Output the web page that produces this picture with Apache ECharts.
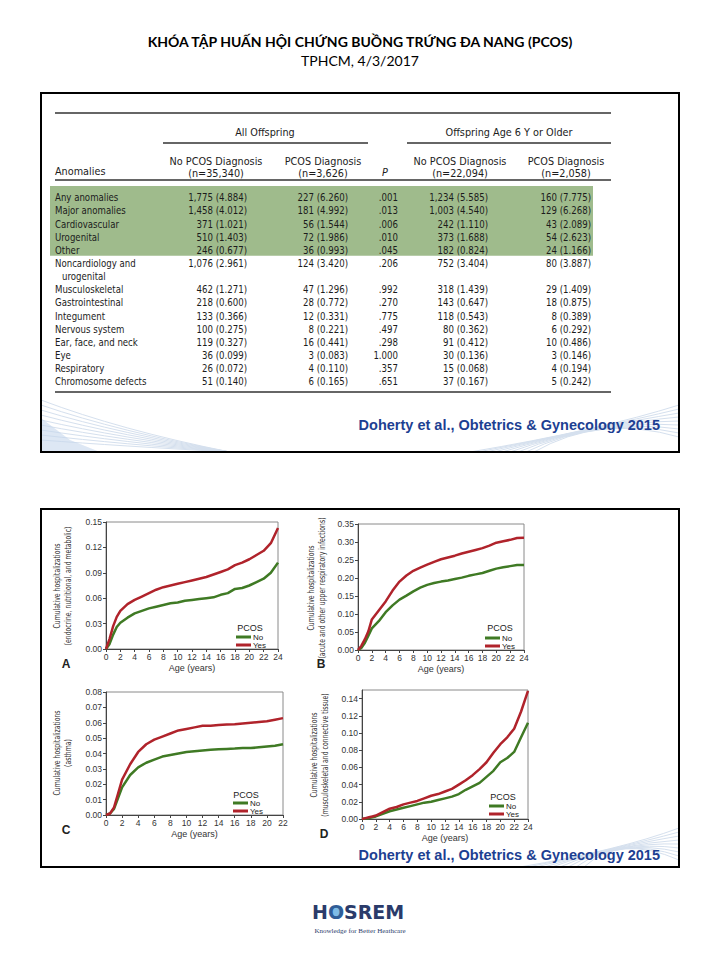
<!DOCTYPE html>
<html><head><meta charset="utf-8">
<script src="https://cdn.jsdelivr.net/npm/echarts@6/dist/echarts.min.js"></script>
<style>html,body{margin:0;padding:0;background:#fff}#c{width:720px;height:960px}</style>
</head><body><div id="c"></div>
<script>
// ---------- slide text ----------
const titleText = 'KHÓA TẬP HUẤN HỘI CHỨNG BUỒNG TRỨNG ĐA NANG (PCOS)';
const subtitleText = 'TPHCM, 4/3/2017';
const sourceText = 'Doherty et al., Obtetrics & Gynecology 2015';

// ---------- table ----------
const groupHeaders = ['All Offspring', 'Offspring Age 6 Y or Older'];
const colHeaders = [['No PCOS Diagnosis', '(n=35,340)'], ['PCOS Diagnosis', '(n=3,626)'], ['P'], ['No PCOS Diagnosis', '(n=22,094)'], ['PCOS Diagnosis', '(n=2,058)']];
const anomalies = ['Any anomalies', 'Major anomalies', 'Cardiovascular', 'Urogenital', 'Other', 'Noncardiology and\nurogenital', 'Musculoskeletal', 'Gastrointestinal', 'Integument', 'Nervous system', 'Ear, face, and neck', 'Eye', 'Respiratory', 'Chromosome defects'];
const noPcosAll = ['1,775 (4.884)', '1,458 (4.012)', '371 (1.021)', '510 (1.403)', '246 (0.677)', '1,076 (2.961)', '462 (1.271)', '218 (0.600)', '133 (0.366)', '100 (0.275)', '119 (0.327)', '36 (0.099)', '26 (0.072)', '51 (0.140)'];
const pcosAll = ['227 (6.260)', '181 (4.992)', '56 (1.544)', '72 (1.986)', '36 (0.993)', '124 (3.420)', '47 (1.296)', '28 (0.772)', '12 (0.331)', '8 (0.221)', '16 (0.441)', '3 (0.083)', '4 (0.110)', '6 (0.165)'];
const pValues = ['.001', '.013', '.006', '.010', '.045', '.206', '.992', '.270', '.775', '.497', '.298', '1.000', '.357', '.651'];
const noPcos6 = ['1,234 (5.585)', '1,003 (4.540)', '242 (1.110)', '373 (1.688)', '182 (0.824)', '752 (3.404)', '318 (1.439)', '143 (0.647)', '118 (0.543)', '80 (0.362)', '91 (0.412)', '30 (0.136)', '15 (0.068)', '37 (0.167)'];
const pcos6 = ['160 (7.775)', '129 (6.268)', '43 (2.089)', '54 (2.623)', '24 (1.166)', '80 (3.887)', '29 (1.409)', '18 (0.875)', '8 (0.389)', '6 (0.292)', '10 (0.486)', '3 (0.146)', '4 (0.194)', '5 (0.242)'];
const highlightedRows = 5;

// ---------- curves ----------
const ages24 = [0, 0.5, 1, 1.5, 2, 3, 4, 5, 6, 7, 8, 9, 10, 11, 12, 13, 14, 15, 16, 17, 18, 19, 20, 21, 22, 23, 24];
const ages22 = [0, 0.5, 1, 1.5, 2, 3, 4, 5, 6, 7, 8, 9, 10, 11, 12, 13, 14, 15, 16, 17, 18, 19, 20, 21, 22];
const endoNo  = [0, 0.006, 0.017, 0.026, 0.031, 0.037, 0.042, 0.045, 0.048, 0.050, 0.052, 0.054, 0.055, 0.057, 0.058, 0.059, 0.060, 0.061, 0.064, 0.066, 0.071, 0.072, 0.075, 0.079, 0.083, 0.090, 0.102];
const endoYes = [0, 0.012, 0.027, 0.038, 0.045, 0.053, 0.058, 0.062, 0.066, 0.070, 0.073, 0.075, 0.077, 0.079, 0.081, 0.083, 0.085, 0.088, 0.091, 0.094, 0.099, 0.102, 0.106, 0.111, 0.116, 0.125, 0.143];
const respNo  = [0, 0.006, 0.020, 0.040, 0.060, 0.080, 0.105, 0.124, 0.140, 0.151, 0.163, 0.173, 0.181, 0.186, 0.190, 0.193, 0.197, 0.201, 0.206, 0.210, 0.214, 0.220, 0.226, 0.230, 0.233, 0.236, 0.236];
const respYes = [0, 0.012, 0.030, 0.052, 0.085, 0.110, 0.135, 0.165, 0.190, 0.207, 0.220, 0.229, 0.237, 0.245, 0.252, 0.257, 0.262, 0.268, 0.273, 0.278, 0.283, 0.290, 0.298, 0.302, 0.306, 0.311, 0.312];
const asthNo  = [0, 0.001, 0.004, 0.011, 0.018, 0.026, 0.031, 0.034, 0.036, 0.038, 0.039, 0.040, 0.041, 0.0415, 0.042, 0.0425, 0.0428, 0.043, 0.0432, 0.0435, 0.0435, 0.044, 0.0445, 0.045, 0.046];
const asthYes = [0, 0.001, 0.005, 0.014, 0.023, 0.033, 0.041, 0.046, 0.049, 0.051, 0.053, 0.055, 0.056, 0.057, 0.058, 0.058, 0.0585, 0.0588, 0.059, 0.0595, 0.060, 0.0605, 0.061, 0.062, 0.063];
const muscNo  = [0, 0.0005, 0.001, 0.002, 0.003, 0.006, 0.009, 0.011, 0.013, 0.015, 0.017, 0.019, 0.020, 0.022, 0.024, 0.026, 0.029, 0.034, 0.038, 0.042, 0.049, 0.056, 0.066, 0.071, 0.078, 0.095, 0.112];
const muscYes = [0, 0.001, 0.002, 0.003, 0.004, 0.008, 0.012, 0.014, 0.017, 0.019, 0.021, 0.024, 0.027, 0.029, 0.032, 0.035, 0.040, 0.045, 0.051, 0.058, 0.066, 0.077, 0.087, 0.095, 0.105, 0.125, 0.149];
const panelLetters = ['A', 'B', 'C', 'D'];
const panelTitles = [
  ['Cumulative hospitalizations', '(endocrine, nutritional, and metabolic)'],
  ['Cumulative hospitalizations', '(acute and other upper respiratory infections)'],
  ['Cumulative hospitalizations', '(asthma)'],
  ['Cumulative hospitalizations', '(musculoskeletal and connective tissue)']
];
const yMax = [0.15, 0.35, 0.08, 0.15];
const yStep = [0.03, 0.05, 0.01, 0.02];
const xMax = [24, 24, 22, 24];
const legendNames = ['No', 'Yes'];
const legendTitle = 'PCOS';
const xAxisTitle = 'Age (years)';

// ---------- layout ----------
const GREEN = '#3f7a24', RED = '#b0232b', NAVY = '#2b3b6a', BLUE = '#1d3f92';
const TAB_FONT = "'Liberation Sans Narrow', 'DejaVu Sans Condensed', sans-serif";
const NARROW = "'DejaVu Sans Condensed', sans-serif";
const SANS = "'Liberation Sans', Arial, sans-serif";
const grids = [
  {left: 106, top: 522, width: 172, height: 127},
  {left: 358, top: 524, width: 166, height: 126},
  {left: 106, top: 692, width: 177, height: 123},
  {left: 362, top: 690, width: 166, height: 129}
];
const letterPos = [[66, 664], [321, 664], [66, 830], [324, 834]];
const titlePos = [[62, 586], [316, 588], [62, 753], [319, 755]];
const legendPos = [[236, 633], [485, 634], [233, 799], [489, 802]];
const pcosPos = [[250, 628], [500, 628], [246, 795], [503, 797]];

const els = [];
function txt(x, y, text, font, opts) {
  opts = opts || {};
  els.push({
    type: 'text', x: x, y: y, rotation: opts.rotation || 0, scaleX: opts.sx || 1, z: 10,
    style: {
      text: text, font: font, fill: opts.fill || '#222',
      align: opts.align || 'left', textAlign: opts.align || 'left',
      verticalAlign: opts.va || 'middle', textVerticalAlign: opts.va || 'middle',
      lineHeight: opts.lineHeight
    }
  });
}
function hline(x1, x2, y, w) {
  els.push({type: 'line', z: 5, shape: {x1: x1, y1: y, x2: x2, y2: y}, style: {stroke: '#333', lineWidth: w || 1.3}});
}
function deco(pts) {
  els.push({type: 'bezierCurve', z: 0, shape: {x1: pts[0], y1: pts[1], cpx1: pts[2], cpy1: pts[3], x2: pts[4], y2: pts[5]}, style: {stroke: '#d5e0ee', lineWidth: 1, fill: 'none'}});
}
// faint background swooshes
for (let k = 0; k < 9; k++) {
  deco([41, 400 + k * 5, 120, 430 + k * 2, 230, 452]);
  deco([470 + k * 8, 452, 600, 430 - k * 2, 679, 405 + k * 4]);
  deco([520 + k * 8, 867, 620, 850 - k * 2, 679, 828 + k * 4]);
}
els.push({type: 'polygon', z: 0, shape: {points: [[41, 452], [41, 418], [70, 440], [100, 452]]}, style: {fill: '#c6d7ec', opacity: 0.6}});
// frames
els.push({type: 'rect', z: 1, shape: {x: 41, y: 93, width: 638, height: 359}, style: {fill: 'none', stroke: '#000', lineWidth: 2}});
els.push({type: 'rect', z: 1, shape: {x: 41, y: 509, width: 638, height: 358}, style: {fill: 'none', stroke: '#000', lineWidth: 2}});
// titles
txt(360, 41, titleText, "bold 14px Lato, 'Open Sans', sans-serif", {align: 'center', fill: '#000'});
txt(360, 60, subtitleText, "14px Lato, 'Open Sans', sans-serif", {align: 'center', fill: '#000'});

// table
const rowH = 13.15, rowTop = 197;
const TSX = 0.87, HSX = 0.98;
els.push({type: 'rect', z: 2, shape: {x: 50, y: 186, width: 543, height: rowH * highlightedRows + 4}, style: {fill: '#9fbb8c'}});
hline(55, 611, 113, 1.4);
hline(163, 368, 143, 1.4);
hline(407, 611, 143, 1.4);
hline(55, 611, 180, 1.4);
const f11 = '11px ' + TAB_FONT;
const tcol = '#1c1c1c';
txt(265, 132, groupHeaders[0], f11, {align: 'center', sx: HSX, fill: tcol});
txt(509, 132, groupHeaders[1], f11, {align: 'center', sx: HSX, fill: tcol});
txt(55, 171, 'Anomalies', f11, {sx: HSX, fill: tcol});
const headCenters = [216, 323, 385, 460, 566];
colHeaders.forEach(function (h, i) {
  if (h.length === 1) { txt(headCenters[i], 172, h[0], 'italic ' + f11, {align: 'center', sx: HSX, fill: tcol}); }
  else { txt(headCenters[i], 161, h[0], f11, {align: 'center', sx: HSX, fill: tcol}); txt(headCenters[i], 173, h[1], f11, {align: 'center', sx: HSX, fill: tcol}); }
});
let ry = rowTop;
const colRights = [247, 348, 398, 488, 591];
const cols = [noPcosAll, pcosAll, pValues, noPcos6, pcos6];
anomalies.forEach(function (lab, i) {
  const lines = lab.split('\n');
  lines.forEach(function (ln, k) { txt(k ? 62 : 55, ry + k * rowH, ln, f11, {sx: TSX, fill: tcol}); });
  cols.forEach(function (c, j) { txt(colRights[j], ry, c[i], f11, {align: 'right', sx: TSX, fill: tcol}); });
  ry += rowH * lines.length;
});
hline(55, 611, 392, 1.4);
txt(660, 425, sourceText, 'bold 14.5px ' + SANS, {align: 'right', fill: BLUE});
txt(660, 855, sourceText, 'bold 14.5px ' + SANS, {align: 'right', fill: BLUE});

// chart decorations
for (let i = 0; i < 4; i++) {
  txt(letterPos[i][0], letterPos[i][1], panelLetters[i], 'bold 12px ' + SANS, {align: 'center', fill: '#222'});
  txt(titlePos[i][0], titlePos[i][1], panelTitles[i].join('\n'), '9.5px ' + NARROW, {align: 'center', fill: '#333', rotation: Math.PI / 2, lineHeight: 10.5, sx: 0.72});
  txt(pcosPos[i][0], pcosPos[i][1], legendTitle, '9px ' + SANS, {align: 'center', fill: '#222'});
}
// logo
els.push({type: 'circle', z: 9, shape: {cx: 336, cy: 912, r: 5}, style: {fill: '#7fbce6'}});
els.push({type: 'text', x: 312, y: 912, z: 10, style: {
  text: '{a|H}{o|O}{a|SREM}', align: 'left', textAlign: 'left', verticalAlign: 'middle', textVerticalAlign: 'middle',
  rich: {a: {font: "bold 19px 'DejaVu Sans', sans-serif", fill: NAVY, color: NAVY}, o: {font: "bold 19px 'DejaVu Sans', sans-serif", fill: '#2f5d97', color: '#2f5d97'}}
}});
txt(360, 931, 'Knowledge for Better Heathcare', "7px 'Liberation Serif', serif", {align: 'center', fill: NAVY});

// ---------- chart ----------
const curves = [[ages24, endoNo, endoYes], [ages24, respNo, respYes], [ages22, asthNo, asthYes], [ages24, muscNo, muscYes]];
const series = [];
curves.forEach(function (c, i) {
  [[legendNames[0], c[1], GREEN], [legendNames[1], c[2], RED]].forEach(function (s) {
    series.push({
      type: 'line', name: s[0], xAxisIndex: i, yAxisIndex: i,
      data: c[0].map(function (a, k) { return [a, s[1][k]]; }),
      showSymbol: false, symbol: 'none', smooth: false,
      lineStyle: {width: 2.5, color: s[2]}, itemStyle: {color: s[2]}
    });
  });
});
const axisCommon = {
  axisLine: {show: true, onZero: false, lineStyle: {color: '#444', width: 1}},
  axisTick: {show: true, length: 3, lineStyle: {color: '#444'}},
  splitLine: {show: false}
};
const option = {
  animation: false,
  backgroundColor: '#fff',
  grid: grids.map(function (g) {
    return Object.assign({show: true, borderColor: '#8a8a8a', borderWidth: 1, backgroundColor: 'transparent', containLabel: false, outerBoundsMode: 'none'}, g);
  }),
  xAxis: grids.map(function (g, i) {
    return Object.assign({}, axisCommon, {
      type: 'value', gridIndex: i, min: 0, max: xMax[i], interval: 2,
      axisLabel: {fontSize: 8.5, color: '#333', margin: 3, fontFamily: SANS},
      name: xAxisTitle, nameLocation: 'middle', nameGap: 14,
      nameTextStyle: {fontSize: 9, color: '#333', fontFamily: SANS}
    });
  }),
  yAxis: grids.map(function (g, i) {
    return Object.assign({}, axisCommon, {
      type: 'value', gridIndex: i, min: 0, max: yMax[i], interval: yStep[i],
      axisLabel: {fontSize: 8.5, color: '#333', margin: 4, fontFamily: SANS, showMaxLabel: i !== 3,
        formatter: function (v) { return v.toFixed(2); }}
    });
  }),
  legend: legendPos.map(function (p) {
    return {
      data: legendNames, left: p[0], top: p[1], orient: 'vertical', icon: 'rect',
      itemWidth: 15, itemHeight: 3, itemGap: 0, padding: 0, selectedMode: false,
      textStyle: {fontSize: 8, color: '#222', lineHeight: 7, fontFamily: SANS, padding: [0, 0, 0, -3]}
    };
  }),
  series: series,
  graphic: {elements: els}
};
const chart = echarts.init(document.getElementById('c'), null, {renderer: 'svg'});
chart.setOption(option);
</script>
</body></html>
